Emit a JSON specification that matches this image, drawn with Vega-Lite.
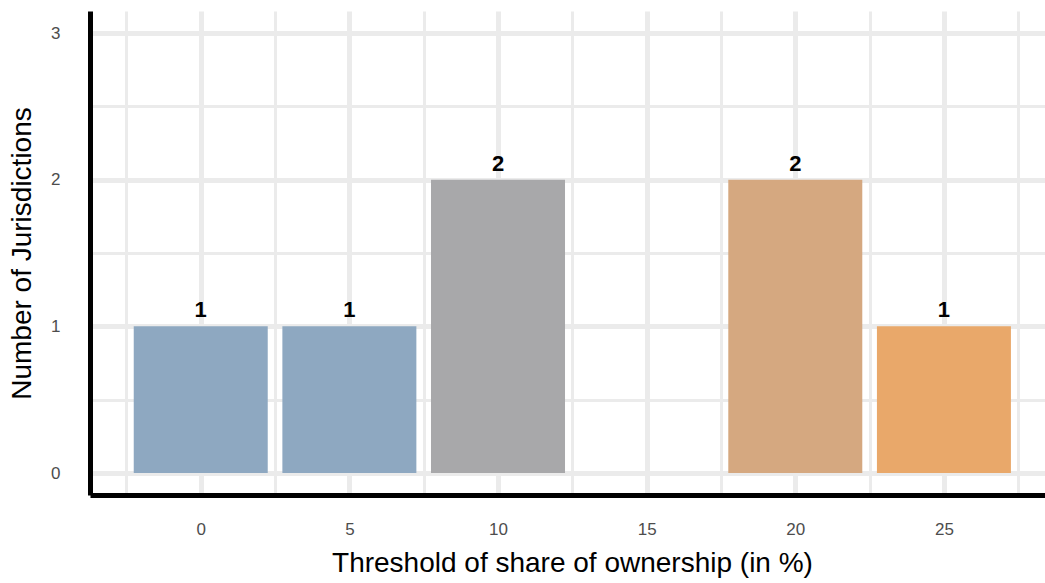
{
  "$schema": "https://vega.github.io/schema/vega-lite/v6.json",
  "width": 955,
  "height": 484,
  "autosize": "none",
  "padding": {"left": 90, "top": 11, "right": 0, "bottom": 88},
  "background": "white",
  "config": {
    "view": {"stroke": null},
    "font": "Liberation Sans"
  },
  "data": {
    "values": [
      {"threshold": 0, "count": 1, "group": "0"},
      {"threshold": 5, "count": 1, "group": "5"},
      {"threshold": 10, "count": 2, "group": "10"},
      {"threshold": 20, "count": 2, "group": "20"},
      {"threshold": 25, "count": 1, "group": "25"}
    ]
  },
  "resolve": {"axis": {"x": "independent", "y": "independent"}},
  "layer": [
    {
      "mark": {"type": "bar", "width": 134},
      "encoding": {
        "x": {
          "field": "threshold", "type": "quantitative",
          "scale": {"domain": [-3.725, 28.4], "nice": false, "zero": false, "padding": 0},
          "axis": {
            "orient": "bottom",
            "values": [0, 5, 10, 15, 20, 25],
            "title": "Threshold of share of ownership (in %)",
            "titleFontSize": 28, "titleFontWeight": "normal", "titleColor": "#000000",
            "titlePadding": 12, "titleX": 482,
            "labelFontSize": 17, "labelColor": "#4D4D4D", "labelPadding": 26,
            "ticks": false,
            "domain": true, "domainColor": "#000000", "domainWidth": 5,
            "grid": true, "gridColor": "#EBEBEB", "gridWidth": 5
          }
        },
        "y": {
          "field": "count", "type": "quantitative",
          "scale": {"domain": [-0.15, 3.15], "nice": false, "zero": false, "padding": 0},
          "axis": {
            "orient": "left",
            "values": [0, 1, 2, 3],
            "title": "Number of Jurisdictions",
            "titleFontSize": 28, "titleFontWeight": "normal", "titleColor": "#000000",
            "titlePadding": 14,
            "labelFontSize": 17, "labelColor": "#4D4D4D", "labelPadding": 30,
            "ticks": false,
            "domain": true, "domainColor": "#000000", "domainWidth": 5,
            "grid": true, "gridColor": "#EBEBEB", "gridWidth": 5
          }
        },
        "color": {
          "field": "group", "type": "nominal",
          "scale": {
            "domain": ["0", "5", "10", "20", "25"],
            "range": ["#8EA8C1", "#8EA8C1", "#A8A8AA", "#D5A880", "#E9A86A"]
          },
          "legend": null
        }
      }
    },
    {
      "mark": {"type": "text", "baseline": "bottom", "dy": -4, "fontSize": 22, "fontWeight": "bold", "color": "#000000"},
      "encoding": {
        "x": {
          "field": "threshold", "type": "quantitative",
          "axis": {
            "orient": "top",
            "values": [-2.5, 2.5, 7.5, 12.5, 17.5, 22.5, 27.5],
            "labels": false, "ticks": false, "domain": false, "title": null,
            "grid": true, "gridColor": "#EBEBEB", "gridWidth": 3
          }
        },
        "y": {
          "field": "count", "type": "quantitative",
          "axis": {
            "orient": "right",
            "values": [0.5, 1.5, 2.5],
            "labels": false, "ticks": false, "domain": false, "title": null,
            "grid": true, "gridColor": "#EBEBEB", "gridWidth": 3
          }
        },
        "text": {"field": "count", "type": "quantitative"}
      }
    }
  ]
}
